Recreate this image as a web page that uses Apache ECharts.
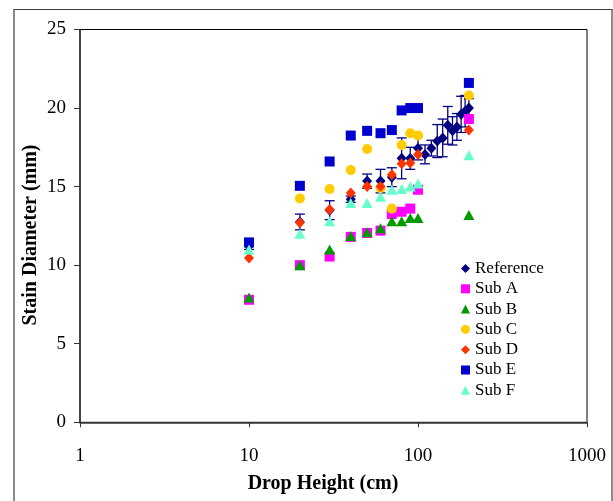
<!DOCTYPE html>
<html>
<head>
<meta charset="utf-8">
<title>Stain Diameter vs Drop Height</title>
<script src="https://cdn.jsdelivr.net/npm/echarts@6/dist/echarts.min.js"></script>
<style>
  html, body { margin: 0; padding: 0; background: #fff; }
  #chart { width: 613px; height: 501px; }
</style>
</head>
<body>
<div id="chart"></div>
<script>
// drop heights for the sub series (cm)
var heights = [10, 20, 30, 40, 50, 60, 70, 80, 90, 100, 200];
// reference series has more heights and error bars
var refHeights = [10, 20, 30, 40, 50, 60, 70, 80, 90, 100, 110, 120, 130, 140, 150, 160, 170, 180, 190, 200];
var refDiameter = [11.2, 12.75, 13.5, 14.2, 15.35, 15.35, 15.6, 16.8, 16.8, 17.45, 17.05, 17.45, 17.9, 18.1, 18.9, 18.55, 18.8, 19.6, 19.8, 20.0];
var refError = [0.2, 0.5, 0.6, 0.2, 0.45, 0.75, 0.6, 1.3, 0.7, 0.75, 0.6, 0.5, 1.05, 1.2, 1.2, 0.9, 0.85, 1.15, 1.0, 0.6];

var subA = [7.8, 10.0, 10.55, 11.8, 12.05, 12.2, 13.25, 13.4, 13.6, 14.8, 19.3];
var subB = [7.95, 10.0, 11.0, 11.85, 12.1, 12.35, 12.8, 12.8, 13.0, 13.0, 13.2];
var subC = [null, 14.25, 14.85, 16.05, 17.4, 14.9, 13.6, 17.65, 18.4, 18.25, 20.8];
var subD = [10.45, 12.7, 13.55, 14.6, 15.0, 15.0, 15.75, 16.45, 16.5, 17.05, 18.6];
var subE = [11.45, 15.05, 16.6, 18.25, 18.55, 18.4, 18.6, 19.85, 20.0, 20.0, 21.6];
var subF = [11.0, 12.0, 12.8, 13.95, 13.95, 14.35, 14.8, 14.85, 15.0, 15.2, 17.0];

var yTicks = [0, 5, 10, 15, 20, 25];

var serif = 'Liberation Serif';

function pairs(xs, ys) {
    var out = [];
    for (var i = 0; i < xs.length; i++) {
        if (ys[i] === null) continue;
        out.push([xs[i], ys[i]]);
    }
    return out;
}

function errData() {
    var out = [];
    for (var i = 0; i < refHeights.length; i++) {
        out.push([refHeights[i], refDiameter[i], refError[i]]);
    }
    return out;
}

function renderErr(params, api) {
    var x = api.value(0), y = api.value(1), e = api.value(2);
    var top = api.coord([x, y + e]);
    var bot = api.coord([x, y - e]);
    var cap = 5;
    var st = { stroke: '#000080', lineWidth: 1.3 };
    return {
        type: 'group',
        children: [
            { type: 'line', shape: { x1: top[0], y1: top[1], x2: bot[0], y2: bot[1] }, style: st },
            { type: 'line', shape: { x1: top[0] - cap, y1: top[1], x2: top[0] + cap, y2: top[1] }, style: st },
            { type: 'line', shape: { x1: bot[0] - cap, y1: bot[1], x2: bot[0] + cap, y2: bot[1] }, style: st }
        ]
    };
}

function scatter(name, data, symbol, size, color) {
    return {
        name: name,
        type: 'scatter',
        data: data,
        symbol: symbol,
        symbolSize: size,
        itemStyle: { color: color, opacity: 1 },
        emphasis: { disabled: true },
        animation: false
    };
}

var myChart = echarts.init(document.getElementById('chart'));
var option = {
    backgroundColor: '#fff',
    animation: false,
    graphic: [
        {
            type: 'rect',
            shape: { x: 14, y: 9.5, width: 598, height: 520 },
            style: { fill: null, stroke: '#404040', lineWidth: 1.2 },
            silent: true
        },
        // axis titles, placed like the original (Excel centres them a bit off the plot centre)
        {
            type: 'text',
            x: 323, y: 484,
            style: {
                text: 'Drop Height (cm)', fontFamily: serif, fontSize: 20, fontWeight: 'bold',
                fill: '#000', align: 'center', verticalAlign: 'middle'
            },
            silent: true
        },
        {
            type: 'text',
            x: 31, y: 235,
            rotation: Math.PI / 2,
            style: {
                text: 'Stain Diameter (mm)', fontFamily: serif, fontSize: 20, fontWeight: 'bold',
                fill: '#000', align: 'center', verticalAlign: 'middle'
            },
            silent: true
        }
    ],
    grid: {
        left: 80, right: 26, top: 29.5, bottom: 78.7,
        show: true, borderColor: '#000', borderWidth: 1, backgroundColor: 'transparent'
    },
    legend: {
        orient: 'vertical',
        left: 461,
        top: 260,
        padding: 0,
        itemGap: 3.3,
        itemWidth: 9,
        itemHeight: 9,
        textStyle: { fontFamily: serif, fontSize: 17, color: '#000', lineHeight: 16 },
        data: [
            { name: 'Reference', icon: 'diamond' },
            { name: 'Sub A', icon: 'rect' },
            { name: 'Sub B', icon: 'triangle' },
            { name: 'Sub C', icon: 'circle' },
            { name: 'Sub D', icon: 'diamond' },
            { name: 'Sub E', icon: 'rect' },
            { name: 'Sub F', icon: 'triangle' }
        ]
    },
    xAxis: {
        type: 'log',
        logBase: 10,
        min: 1,
        max: 1000,
        axisLine: { onZero: false, lineStyle: { color: '#333', width: 1.5 } },
        axisTick: { show: true, inside: false, length: 5, lineStyle: { color: '#333' } },
        minorTick: { show: false },
        splitLine: { show: false },
        axisLabel: {
            fontFamily: serif, fontSize: 19, color: '#000', margin: 24,
            formatter: function (v) { return String(Math.round(v)); }
        }
    },
    yAxis: {
        type: 'value',
        min: yTicks[0],
        max: yTicks[yTicks.length - 1],
        interval: 5,
        axisLine: { show: true, lineStyle: { color: '#333', width: 1.5 } },
        axisTick: { show: true, inside: false, length: 6, lineStyle: { color: '#333' } },
        splitLine: { show: false },
        axisLabel: { fontFamily: serif, fontSize: 19, color: '#000', margin: 14 }
    },
    series: [
        {
            type: 'custom',
            renderItem: renderErr,
            data: errData(),
            encode: { x: 0, y: [1] },
            silent: true,
            z: 1
        },
        scatter('Reference', pairs(refHeights, refDiameter), 'diamond', [10, 11], '#000080'),
        scatter('Sub A', pairs(heights, subA), 'rect', 10, '#FF00FF'),
        scatter('Sub B', pairs(heights, subB), 'triangle', [11, 10], '#009900'),
        scatter('Sub C', pairs(heights, subC), 'circle', 10, '#FFCC00'),
        scatter('Sub D', pairs(heights, subD), 'diamond', [10, 11], '#FF3300'),
        scatter('Sub E', pairs(heights, subE), 'rect', 10, '#0000CC'),
        scatter('Sub F', pairs(heights, subF), 'triangle', [11, 10], '#66FFCC')
    ]
};
myChart.setOption(option);
</script>
</body>
</html>
